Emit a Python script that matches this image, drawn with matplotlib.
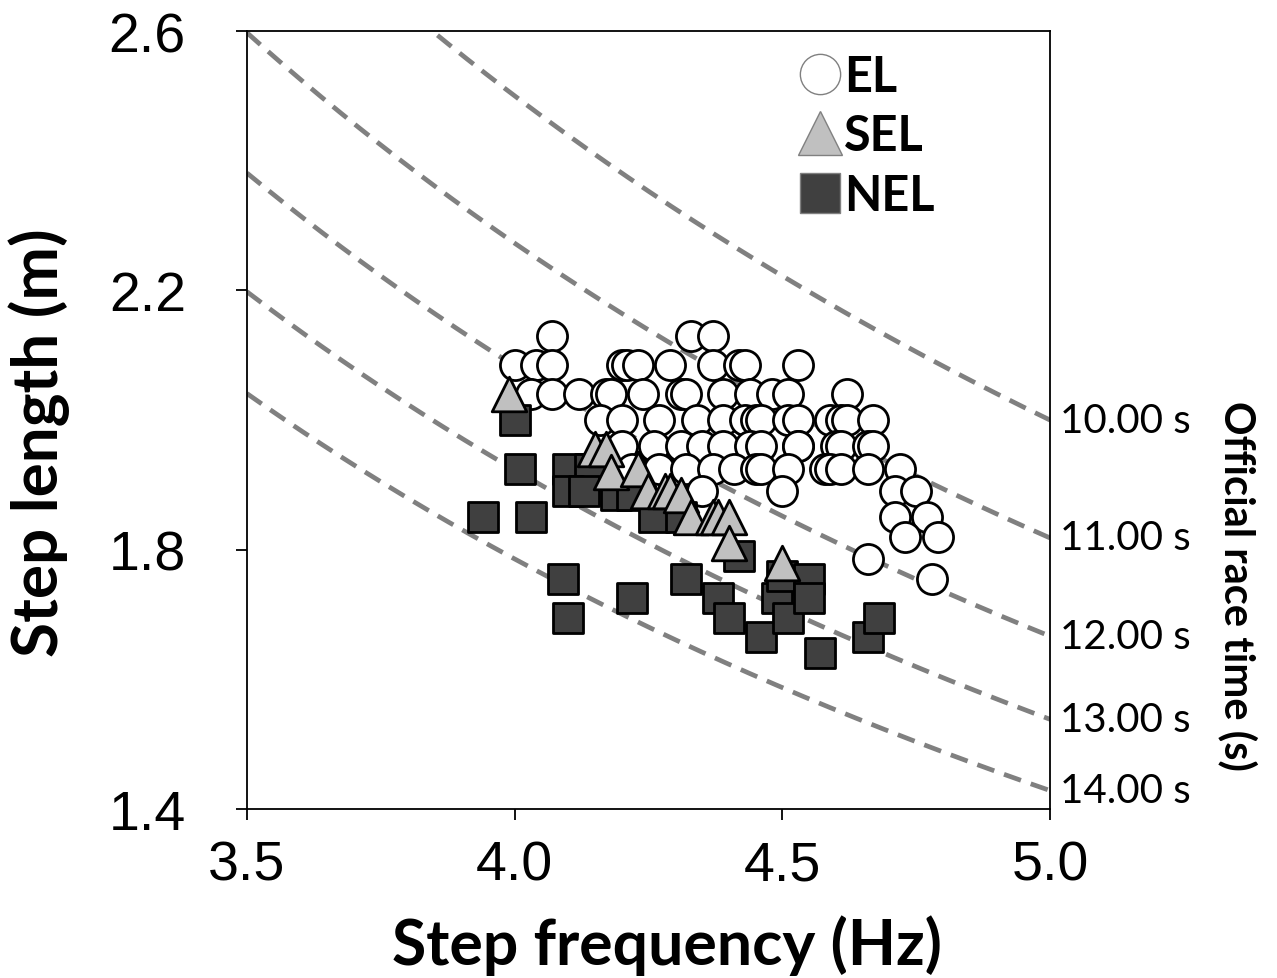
import numpy as np
import matplotlib.pyplot as plt
from matplotlib.lines import Line2D

# step frequency (Hz) / step length (m) per group
el_sf = [4.07, 4.33, 4.37,
         4.00, 4.04, 4.07, 4.20, 4.21, 4.23, 4.29, 4.37, 4.42, 4.43, 4.53,
         4.03, 4.07, 4.12, 4.17, 4.18, 4.24, 4.31, 4.32, 4.39, 4.44, 4.48, 4.51, 4.62,
         4.16, 4.20, 4.27, 4.34, 4.39, 4.43, 4.45, 4.46, 4.51, 4.53, 4.59, 4.61, 4.62, 4.67,
         4.20, 4.26, 4.31, 4.35, 4.39, 4.44, 4.46, 4.53, 4.53, 4.60, 4.61, 4.66, 4.67,
         4.22, 4.27, 4.32, 4.37, 4.41, 4.45, 4.46, 4.51, 4.58, 4.59, 4.61, 4.66, 4.72,
         4.35, 4.50, 4.71, 4.75,
         4.71, 4.77,
         4.73, 4.79,
         4.66,
         4.78]
el_sl = [2.13, 2.13, 2.13,
         2.085, 2.085, 2.085, 2.085, 2.085, 2.085, 2.085, 2.085, 2.085, 2.085, 2.085,
         2.04, 2.04, 2.04, 2.04, 2.04, 2.04, 2.04, 2.04, 2.04, 2.04, 2.04, 2.04, 2.04,
         2.00, 2.00, 2.00, 2.00, 2.00, 2.00, 2.00, 2.00, 2.00, 2.00, 2.00, 2.00, 2.00, 2.00,
         1.96, 1.96, 1.96, 1.96, 1.96, 1.96, 1.96, 1.96, 1.96, 1.96, 1.96, 1.96, 1.96,
         1.925, 1.925, 1.925, 1.925, 1.925, 1.925, 1.925, 1.925, 1.925, 1.925, 1.925, 1.925, 1.925,
         1.89, 1.89, 1.89, 1.89,
         1.85, 1.85,
         1.82, 1.82,
         1.785,
         1.755]

sel_sf = [3.99, 4.15, 4.17, 4.18, 4.23, 4.25, 4.28, 4.29, 4.31, 4.33, 4.37, 4.38, 4.40, 4.40, 4.50]
sel_sl = [2.04, 1.955, 1.955, 1.92, 1.925, 1.89, 1.89, 1.89, 1.885, 1.85, 1.85, 1.85, 1.85, 1.81, 1.78]

nel_sf = [4.00, 4.01, 4.10, 4.14, 4.10, 4.13, 3.94, 4.03, 4.19, 4.22, 4.26, 4.31, 4.09, 4.10,
          4.22, 4.32, 4.38, 4.40, 4.42, 4.46, 4.49, 4.50, 4.51, 4.55, 4.55, 4.57, 4.66, 4.68]
nel_sl = [2.00, 1.925, 1.925, 1.925, 1.89, 1.89, 1.85, 1.85, 1.885, 1.885, 1.85, 1.85, 1.755, 1.695,
          1.725, 1.755, 1.725, 1.695, 1.79, 1.665, 1.725, 1.76, 1.695, 1.755, 1.725, 1.64, 1.665, 1.695]

race_times = [10, 11, 12, 13, 14]   # s, 100 m
race_labels = ["10.00 s", "11.00 s", "12.00 s", "13.00 s", "14.00 s"]

x_ticks = [3.5, 4.0, 4.5, 5.0]
y_ticks = [1.4, 1.8, 2.2, 2.6]

fig = plt.figure(figsize=(12.77, 9.79), dpi=100)
ax = fig.add_axes([0.1934, 0.1726, 0.6288, 0.7947])

# iso race-time curves: SL = 100 / (T * SF)
sf = np.linspace(3.5, 5.0, 300)
for t, lab in zip(race_times, race_labels):
    ax.plot(sf, 100.0 / (t * sf), color="#808080", lw=3.4, ls=(0, (3.8, 2.2)), zorder=1)
    ax.annotate(lab, xy=(5.0, 100.0 / (t * 5.0)), xytext=(7, 0), textcoords="offset points",
                va="center", ha="left", fontsize=29, family="Lato", annotation_clip=False)

ax.scatter(el_sf, el_sl, s=470, marker="o", facecolor="white", edgecolor="black", lw=2.0, zorder=3)
ax.scatter(nel_sf, nel_sl, s=470, marker="s", facecolor="#404040", edgecolor="black", lw=2.0, zorder=4)
ax.scatter(sel_sf, sel_sl, s=620, marker="^", facecolor="#c0c0c0", edgecolor="black", lw=2.0, zorder=5)

ax.set_xlim(3.5, 5.0)
ax.set_ylim(1.4, 2.6)
ax.set_xticks(x_ticks)
ax.set_xticklabels(["%.1f" % v for v in x_ticks])
ax.set_yticks(y_ticks)
ax.set_yticklabels(["%.1f" % v for v in y_ticks])
for lab in ax.get_xticklabels() + ax.get_yticklabels():
    lab.set_family("Liberation Sans")
    lab.set_fontsize(40)
ax.tick_params(axis="y", direction="out", length=8, width=1.3, pad=36)
ax.tick_params(axis="x", direction="out", length=8, width=1.3, pad=14)
for sp in ax.spines.values():
    sp.set_linewidth(1.3)

handles = [
    Line2D([], [], ls="none", marker="o", ms=29, mfc="white", mec="#808080", mew=1),
    Line2D([], [], ls="none", marker="^", ms=32, mfc="#c0c0c0", mec="#808080", mew=1),
    Line2D([], [], ls="none", marker="s", ms=29, mfc="#404040", mec="#808080", mew=1),
]
ax.legend(handles, ["EL", "SEL", "NEL"], loc="upper left", bbox_to_anchor=(0.632, 1.027),
          frameon=False, handlelength=0.9, handletextpad=0.05, labelspacing=0.3,
          prop={"family": "Lato", "weight": "bold", "size": 35})

fig.text(0.031, 0.548, "Step length (m)", rotation=90, ha="center", va="center",
         fontsize=46, fontweight="bold", family="Lato")
fig.text(0.522, 0.034, "Step frequency (Hz)", ha="center", va="center",
         fontsize=45, fontweight="bold", family="Lato")
fig.text(0.969, 0.402, "Official race time (s)", rotation=270, ha="center", va="center",
         fontsize=30, fontweight="bold", family="Lato")

fig.savefig("out.png", dpi=100)
